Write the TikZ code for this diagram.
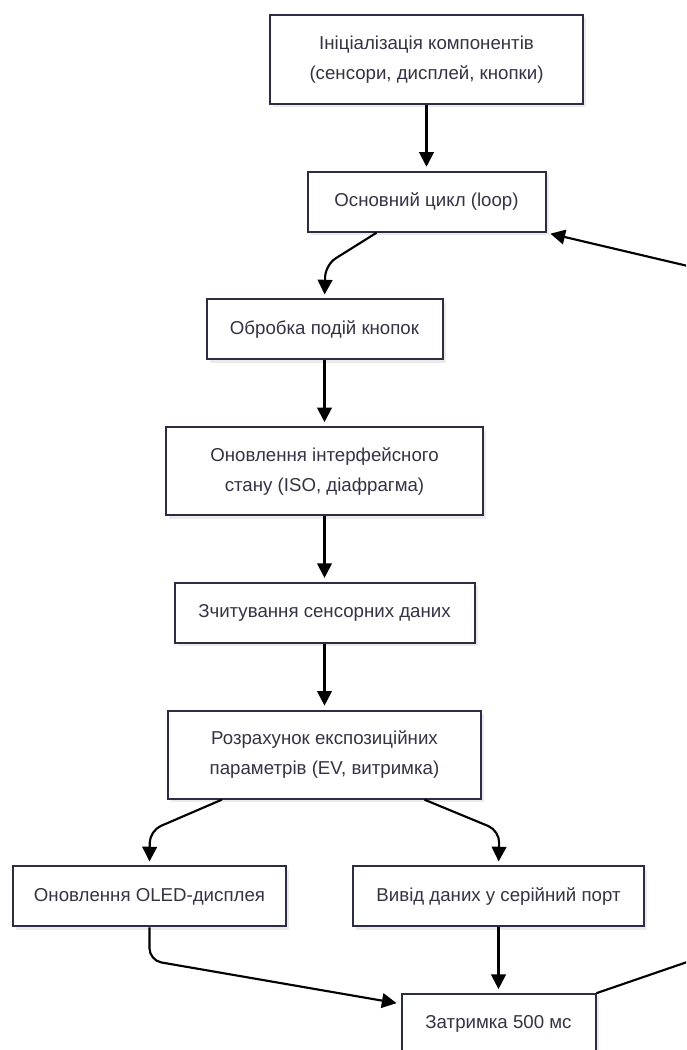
\documentclass[tikz,border=0pt]{standalone}
\usepackage{fontspec}
\setmainfont{Liberation Sans}
\usepackage{tikz}
\usetikzlibrary{arrows.meta,positioning,shadows}
\definecolor{boxline}{RGB}{44,44,66}
\definecolor{boxtext}{RGB}{51,51,68}

\begin{document}
\begin{tikzpicture}[x=0.75pt, y=-0.75pt, node distance=49.3pt,
    every node/.style={font=\fontsize{14}{22.5}\selectfont, text=boxtext},
    box/.style={draw=boxline, line width=1.5pt, fill=white, align=center,
      minimum height=45pt, inner sep=0pt,
      drop shadow={shadow xshift=2.5pt, shadow yshift=-2.5pt, fill=black, opacity=0.08}},
    arr/.style={-{Triangle[length=11pt, width=11pt]}, line width=1.6pt, shorten >=3pt, rounded corners=9pt}]
  \useasboundingbox (0,0) rectangle (686,1050);
  \clip (0,0) rectangle (686,1050);
  \node[box, minimum width=234.75pt, minimum height=66.75pt] (init) at (426.5,59.5) {Ініціалізація компонентів\\(сенсори, дисплей, кнопки)};
  \node[box, below=of init, minimum width=178.5pt] (loop) {Основний цикл (loop)};
  \node[box, below=of loop, xshift=-76.5pt, minimum width=177pt] (keys) {Обробка подій кнопок};
  \node[box, below=of keys, minimum width=237.75pt, minimum height=66pt] (ui) {Оновлення інтерфейсного\\стану (ISO, діафрагма)};
  \node[box, below=of ui, minimum width=225pt] (sensors) {Зчитування сенсорних даних};
  \node[box, below=of sensors, minimum width=234.75pt, minimum height=66pt] (expo) {Розрахунок експозиційних\\параметрів (EV, витримка)};
  \node[box, below=of expo, xshift=-131.25pt, minimum width=204.75pt] (oled) {Оновлення OLED-дисплея};
  \node[box, below=of expo, xshift=130.5pt, minimum width=218.25pt] (serial) {Вивід даних у серійний порт};
  \node[box, below=of serial, minimum width=145.5pt] (delay) {Затримка 500 мс};
  % return path leaves the frame on the right
  \coordinate (back1) at (760,937);
  \coordinate (back2) at (760,283);

  \draw[arr] (init) -- (loop);
  \draw[arr] ([xshift=-37.5pt]loop.south) -- ++(-51,32) -- (keys.north);
  \draw[arr] (keys) -- (ui);
  \draw[arr] (ui) -- (sensors);
  \draw[arr] (sensors) -- (expo);
  \draw[arr] ([xshift=-77pt]expo.south) -- ++(-72,31) -- (oled.north);
  \draw[arr] ([xshift=75pt]expo.south) -- ++(75,31) -- (serial.north);
  \draw[arr] (oled.south) -- ++(0,33) -- ([yshift=-8pt]delay.north west);
  \draw[arr] (serial) -- (delay);
  \draw[arr] (delay.north east) -- (back1) -- (back2) -- (loop.south east);
\end{tikzpicture}
\end{document}
